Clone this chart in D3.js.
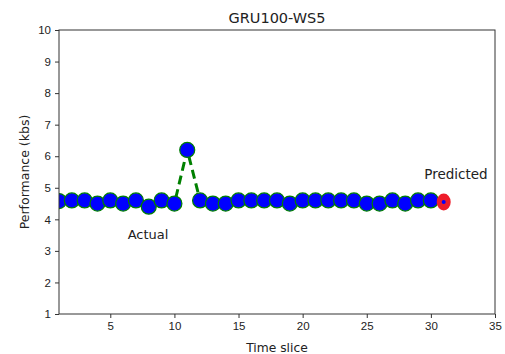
<!DOCTYPE html>
<html>
<head>
<meta charset="utf-8">
<script src="https://cdn.jsdelivr.net/npm/d3@7/dist/d3.min.js"></script>
<style>
  body { margin: 0; background: #fff; }
  svg { font-family: "DejaVu Sans", sans-serif; }
  .axis path, .axis line { stroke: #333; }
  .axis text { fill: #222; font-size: 11.5px; }
</style>
</head>
<body>
<svg id="chart" width="505" height="354"></svg>
<script>
// Observed throughput per time slice
const timeSlices = d3.range(1, 31);
const actualValues = [4.58, 4.6, 4.6, 4.5, 4.6, 4.5, 4.6, 4.4, 4.6, 4.5,
                      6.2, 4.6, 4.5, 4.5, 4.6, 4.6, 4.6, 4.6, 4.5, 4.6,
                      4.6, 4.6, 4.6, 4.6, 4.5, 4.5, 4.6, 4.5, 4.6, 4.6];
// Forecast for the next slice
const predictedSlice = 31;
const predictedValue = 4.55;
const xTicks = [5, 10, 15, 20, 25, 30, 35];
const yTicks = [1, 2, 3, 4, 5, 6, 7, 8, 9, 10];

const svg = d3.select("#chart");
const m = { left: 59, right: 495, top: 30, bottom: 314 };

const x = d3.scaleLinear().domain([1, 35]).range([m.left, m.right]);
const y = d3.scaleLinear().domain([1, 10]).range([m.bottom, m.top]);

svg.append("defs").append("clipPath").attr("id", "plot-area")
  .append("rect")
  .attr("x", m.left).attr("y", m.top)
  .attr("width", m.right - m.left).attr("height", m.bottom - m.top);

svg.append("g").attr("class", "axis")
  .attr("transform", `translate(0,${m.bottom})`)
  .call(d3.axisBottom(x).tickValues(xTicks).tickSize(4).tickPadding(4))
  .call(g => g.select(".domain").remove());

svg.append("g").attr("class", "axis")
  .attr("transform", `translate(${m.left},0)`)
  .call(d3.axisLeft(y).tickValues(yTicks).tickSize(4).tickPadding(4))
  .call(g => g.select(".domain").remove());

const plot = svg.append("g").attr("clip-path", "url(#plot-area)");

const pts = timeSlices.map((t, i) => ({ t, v: actualValues[i] }));
const allPts = pts.concat([{ t: predictedSlice, v: predictedValue }]);

plot.append("path")
  .datum(allPts)
  .attr("fill", "none")
  .attr("stroke", "#008000")
  .attr("stroke-width", 3)
  .attr("stroke-dasharray", "9,5")
  .attr("d", d3.line().x(d => x(d.t)).y(d => y(d.v)));

plot.selectAll("circle.actual")
  .data(pts)
  .join("circle")
  .attr("class", "actual")
  .attr("cx", d => x(d.t))
  .attr("cy", d => y(d.v))
  .attr("r", 7.5)
  .attr("fill", "#0000ff")
  .attr("stroke", "#008000")
  .attr("stroke-width", 1.2);

// predicted marker
plot.append("ellipse")
  .attr("cx", x(predictedSlice)).attr("cy", y(predictedValue))
  .attr("rx", 7).attr("ry", 8.5)
  .attr("fill", "#ee1c2a");
plot.append("circle")
  .attr("cx", x(predictedSlice)).attr("cy", y(predictedValue))
  .attr("r", 2).attr("fill", "#0000ff");

// frame
svg.append("rect")
  .attr("x", m.left).attr("y", m.top)
  .attr("width", m.right - m.left).attr("height", m.bottom - m.top)
  .attr("fill", "none").attr("stroke", "#333").attr("stroke-width", 1);

// annotations
svg.append("text").attr("x", 148).attr("y", 239)
  .attr("text-anchor", "middle").attr("font-size", 13).attr("fill", "#222")
  .text("Actual");
svg.append("text").attr("x", 456).attr("y", 179)
  .attr("text-anchor", "middle").attr("font-size", 13.5).attr("fill", "#222")
  .text("Predicted");

// titles
svg.append("text").attr("x", (m.left + m.right) / 2).attr("y", 23)
  .attr("text-anchor", "middle").attr("font-size", 14.5).attr("fill", "#222")
  .text("GRU100-WS5");
svg.append("text").attr("x", (m.left + m.right) / 2).attr("y", 352)
  .attr("text-anchor", "middle").attr("font-size", 12.3).attr("fill", "#222")
  .text("Time slice");
svg.append("text")
  .attr("transform", `translate(29,${(m.top + m.bottom) / 2}) rotate(-90)`)
  .attr("text-anchor", "middle").attr("font-size", 12.5).attr("fill", "#222")
  .text("Performance (kbs)");
</script>
</body>
</html>
